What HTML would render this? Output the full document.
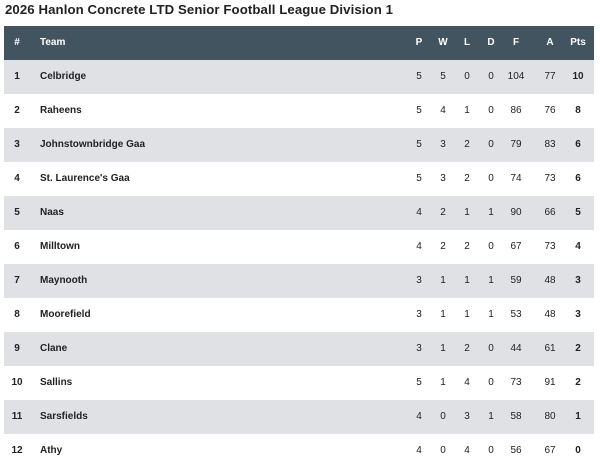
<!DOCTYPE html><html><head><style>
body{margin:0;width:600px;height:468px;background:#fff;font-family:"Liberation Sans",sans-serif;overflow:hidden;position:relative}
h1{position:absolute;left:5px;top:2px;margin:0;font-size:13.2px;font-weight:bold;color:#222;letter-spacing:0.1px}
.t{position:absolute;left:4px;top:26px;width:590px}
.r{position:relative;height:34px;font-size:10px;color:#222}
.r span{position:absolute;top:0;line-height:34px;transform:translateX(-50%)}
.r .n{left:13px;font-weight:bold}.r .tm{left:36px;transform:none;font-weight:bold}
.h{background:#435461;color:#fff;font-weight:bold}
.h span{font-weight:bold}
.o{background:#dfe1e5}
.pts{font-weight:bold}
</style></head><body>
<h1>2026 Hanlon Concrete LTD Senior Football League Division 1</h1>
<div class="t">
<div class="r h"><span class="n">#</span><span class="tm">Team</span><span style="left:415px">P</span><span style="left:439px">W</span><span style="left:463px">L</span><span style="left:487px">D</span><span style="left:512px">F</span><span style="left:546px">A</span><span style="left:574px">Pts</span></div>
</div>
<script>
var d=[["Celbridge",5,5,0,0,104,77,10],["Raheens",5,4,1,0,86,76,8],["Johnstownbridge Gaa",5,3,2,0,79,83,6],["St. Laurence's Gaa",5,3,2,0,74,73,6],["Naas",4,2,1,1,90,66,5],["Milltown",4,2,2,0,67,73,4],["Maynooth",3,1,1,1,59,48,3],["Moorefield",3,1,1,1,53,48,3],["Clane",3,1,2,0,44,61,2],["Sallins",5,1,4,0,73,91,2],["Sarsfields",4,0,3,1,58,80,1],["Athy",4,0,4,0,56,67,0]];
var xs=[415,439,463,487,512,546,574],h="";
d.forEach(function(r,i){h+='<div class="r'+(i%2?'':' o')+'"><span class="n">'+(i+1)+'</span><span class="tm">'+r[0]+'</span>';
for(var j=0;j<7;j++)h+='<span'+(j==6?' class="pts"':'')+' style="left:'+xs[j]+'px">'+r[j+1]+'</span>';h+='</div>';});
document.querySelector('.t').insertAdjacentHTML('beforeend',h);
</script>
</body></html>
